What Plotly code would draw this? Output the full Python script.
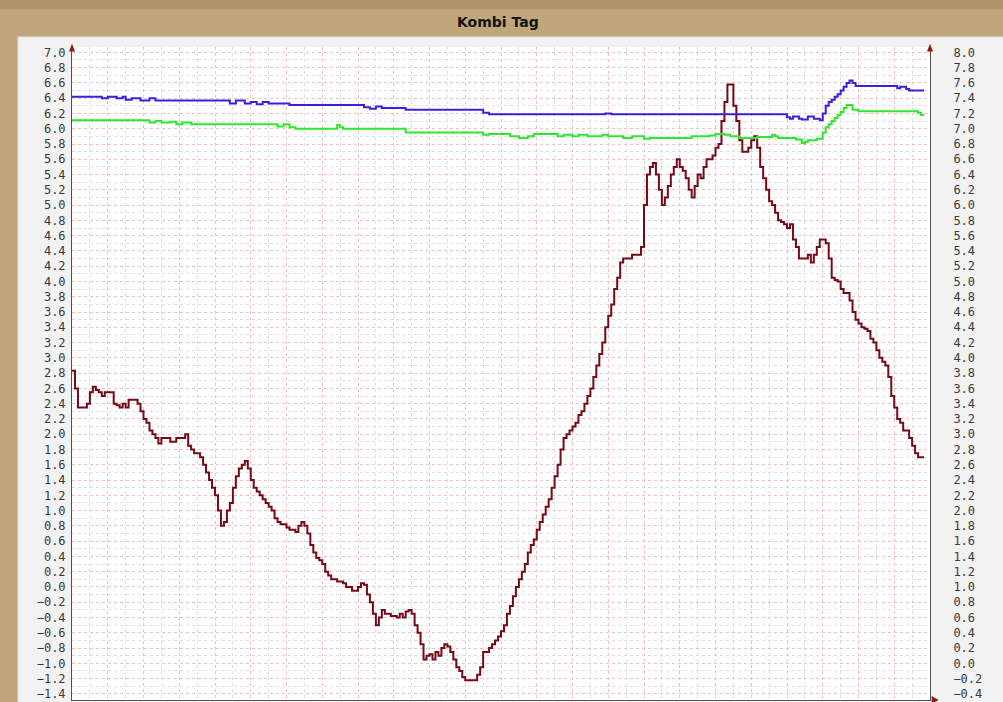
import plotly.graph_objects as go

# 5-minute sample numbers (0..288 = one day) and values
red_samples = [0,1,2,5,6,7,8,9,10,11,14,15,16,17,18,19,22,23,24,25,26,27,28,29,30,33,35,38,39,40,41,43,44,45,46,47,48,49,50,51,52,53,54,55,56,57,58,59,60,61,62,63,64,65,66,67,68,69,70,72,73,75,76,77,78,79,80,81,82,83,84,85,86,87,89,91,92,94,96,97,98,99,100,101,102,103,104,105,107,109,110,111,112,113,114,115,116,117,118,119,120,121,122,123,124,125,126,127,128,129,130,131,132,136,137,138,140,141,142,143,144,145,146,147,148,149,150,151,152,153,154,155,156,157,158,159,160,161,162,163,164,165,166,167,168,169,170,171,172,173,174,175,176,177,178,179,180,181,182,183,184,185,188,191,192,193,194,195,196,197,198,199,200,201,202,203,204,205,206,207,208,209,210,211,212,213,214,215,216,217,218,219,220,221,222,223,224,225,226,227,228,229,230,231,232,233,234,235,236,237,238,239,240,241,242,243,244,245,246,247,248,249,250,251,252,253,254,255,256,257,258,259,260,261,262,263,264,265,266,267,268,269,270,271,272,273,274,275,276,277,278,279,280,281,282,283,284,285,286]
red_values = [2.83,2.6,2.35,2.4,2.55,2.62,2.58,2.55,2.5,2.55,2.4,2.38,2.35,2.4,2.35,2.45,2.4,2.3,2.2,2.15,2.05,2.0,1.95,1.88,1.95,1.9,1.95,2.0,1.85,1.8,1.75,1.7,1.6,1.5,1.4,1.3,1.2,1.0,0.8,0.85,1.0,1.1,1.3,1.45,1.55,1.6,1.65,1.55,1.4,1.3,1.25,1.2,1.15,1.1,1.05,1.0,0.9,0.85,0.82,0.78,0.75,0.72,0.8,0.85,0.8,0.7,0.55,0.45,0.38,0.35,0.3,0.2,0.15,0.1,0.07,0.05,0.0,-0.05,0.0,0.05,0.03,-0.1,-0.2,-0.35,-0.5,-0.4,-0.3,-0.35,-0.38,-0.4,-0.35,-0.4,-0.32,-0.3,-0.35,-0.5,-0.6,-0.75,-0.95,-0.9,-0.88,-0.95,-0.85,-0.9,-0.8,-0.75,-0.78,-0.85,-0.95,-1.05,-1.1,-1.18,-1.22,-1.15,-1.05,-0.85,-0.8,-0.75,-0.7,-0.65,-0.58,-0.5,-0.35,-0.25,-0.12,0.0,0.1,0.2,0.3,0.45,0.55,0.62,0.75,0.85,0.95,1.05,1.15,1.3,1.45,1.6,1.8,1.95,2.0,2.05,2.1,2.15,2.25,2.3,2.4,2.5,2.6,2.75,2.9,3.05,3.2,3.4,3.55,3.7,3.9,4.05,4.25,4.3,4.35,4.45,5.0,5.4,5.5,5.55,5.4,5.2,5.0,5.1,5.25,5.4,5.5,5.6,5.5,5.45,5.35,5.2,5.1,5.25,5.4,5.35,5.5,5.6,5.6,5.65,5.75,5.8,6.1,6.35,6.58,6.58,6.3,6.1,5.85,5.7,5.7,5.75,5.85,5.9,5.75,5.5,5.35,5.2,5.05,5.0,4.9,4.8,4.78,4.75,4.7,4.75,4.55,4.45,4.3,4.3,4.3,4.35,4.25,4.35,4.45,4.55,4.55,4.5,4.3,4.05,4.02,4.0,3.9,3.85,3.85,3.75,3.6,3.5,3.45,3.4,3.38,3.35,3.25,3.2,3.1,3.0,2.95,2.9,2.75,2.5,2.35,2.2,2.15,2.05,2.05,1.95,1.85,1.75,1.7,1.7,1.7]

blue_samples = [0,10,12,15,17,18,20,23,26,28,53,55,58,60,62,64,66,73,98,100,102,104,112,136,138,140,179,181,240,241,242,244,245,247,249,251,252,253,254,255,256,257,258,259,260,261,262,263,277,278,280,281,286]
blue_values = [7.42,7.40,7.42,7.40,7.42,7.38,7.40,7.37,7.40,7.37,7.33,7.37,7.33,7.35,7.32,7.35,7.33,7.31,7.28,7.26,7.29,7.27,7.25,7.25,7.21,7.19,7.20,7.19,7.15,7.13,7.16,7.13,7.12,7.16,7.13,7.11,7.20,7.30,7.35,7.38,7.42,7.45,7.50,7.55,7.60,7.63,7.60,7.56,7.53,7.55,7.52,7.50,7.50]

green_samples = [0,26,28,30,33,35,37,40,69,71,73,75,89,90,91,112,138,140,147,150,153,155,163,165,168,170,173,178,180,185,188,192,194,208,214,216,219,221,224,230,235,236,237,243,245,246,247,250,252,253,254,255,256,257,258,259,260,261,262,264,284,285,286]
green_values = [7.11,7.08,7.10,7.08,7.09,7.06,7.08,7.06,7.03,7.06,7.02,7.00,7.05,7.02,7.00,6.95,6.92,6.93,6.90,6.88,6.90,6.93,6.90,6.92,6.90,6.92,6.90,6.92,6.90,6.88,6.90,6.87,6.88,6.90,6.91,6.93,6.92,6.90,6.88,6.89,6.92,6.90,6.88,6.86,6.81,6.83,6.85,6.87,6.95,7.02,7.06,7.10,7.14,7.18,7.22,7.27,7.31,7.31,7.25,7.23,7.21,7.18,7.18]

TITLE = "Kombi Tag"
MINUTES_PER_SAMPLE = 5

def minutes(samples):
    return [s * MINUTES_PER_SAMPLE for s in samples]

fig = go.Figure()
fig.add_trace(go.Scatter(x=minutes(green_samples), y=green_values, yaxis="y2", mode="lines",
                         line=dict(color="#2ee82e", width=2, shape="hv"), showlegend=False))
fig.add_trace(go.Scatter(x=minutes(blue_samples), y=blue_values, yaxis="y2", mode="lines",
                         line=dict(color="#3a1fdc", width=2, shape="hv"), showlegend=False))
fig.add_trace(go.Scatter(x=minutes(red_samples), y=red_values, mode="lines",
                         line=dict(color="#750a16", width=2, shape="hv"), showlegend=False))

tickfont = dict(family="DejaVu Sans Mono", size=12, color="#3a3a3a")
major_grid = "#f2c0c0"
minor_grid = "#dedede"

fig.update_layout(
    width=1003, height=702,
    margin=dict(l=72, r=73, t=47, b=2),
    paper_bgcolor="#bfa77b",
    plot_bgcolor="rgba(0,0,0,0)",
    hovermode=False,
    xaxis=dict(range=[0, 1440], dtick=60, tick0=0, showticklabels=False, ticks="",
               showgrid=True, gridcolor=major_grid, griddash="dot", gridwidth=1,
               minor=dict(dtick=30, showgrid=True, gridcolor=minor_grid, griddash="dot"),
               showline=True, linecolor="#505050", linewidth=1, zeroline=False),
    yaxis=dict(range=[-1.48, 7.07], dtick=0.2, tick0=0, tickformat=".1f", tickfont=tickfont,
               showgrid=True, gridcolor=major_grid, griddash="dot", gridwidth=1,
               minor=dict(dtick=0.1, showgrid=True, gridcolor=minor_grid, griddash="dot"),
               showline=True, linecolor="#505050", linewidth=1, zeroline=False,
               ticks="", ticklabelstandoff=3),
    yaxis2=dict(range=[-0.48, 8.07], dtick=0.2, tick0=0, tickformat=".1f", tickfont=tickfont,
                overlaying="y", side="right", showgrid=False, zeroline=False,
                showline=True, linecolor="#505050", linewidth=1, ticks="",
                ticklabelstandoff=20),
    shapes=[
        dict(type="rect", xref="paper", yref="paper", x0=-0.1, x1=1.1, y0=1.058, y1=1.09,
             fillcolor="#ad9569", line_width=0, layer="below"),
        dict(type="rect", xref="paper", yref="paper", x0=-0.0629, x1=1.09, y0=-0.01, y1=1.0153,
             fillcolor="#f2f2f2", line=dict(color="#e0e0e0", width=1), layer="below"),
        dict(type="rect", xref="paper", yref="paper", x0=0, x1=1, y0=0, y1=1,
             fillcolor="#ffffff", line_width=0, layer="below"),
        dict(type="path", xref="paper", yref="paper",
             path="M -0.0035 0.993 L 0.0035 0.993 L 0 1.005 Z",
             fillcolor="#8b1a1a", line_width=0),
        dict(type="path", xref="paper", yref="paper",
             path="M 0.9965 0.993 L 1.0035 0.993 L 1 1.005 Z",
             fillcolor="#8b1a1a", line_width=0),
        dict(type="path", xref="paper", yref="paper",
             path="M 1.002 -0.006 L 1.002 0.006 L 1.010 0 Z",
             fillcolor="#8b1a1a", line_width=0),
    ],
    annotations=[
        dict(text="<b>" + TITLE + "</b>", xref="paper", yref="paper", x=0.496, y=1.038,
             xanchor="center", yanchor="middle", showarrow=False,
             font=dict(family="DejaVu Sans", size=14, color="#111111")),
    ],
)

fig.write_html("out.html", config={"displayModeBar": False},
               post_script="document.body.style.margin='0';document.body.style.overflow='hidden';")
